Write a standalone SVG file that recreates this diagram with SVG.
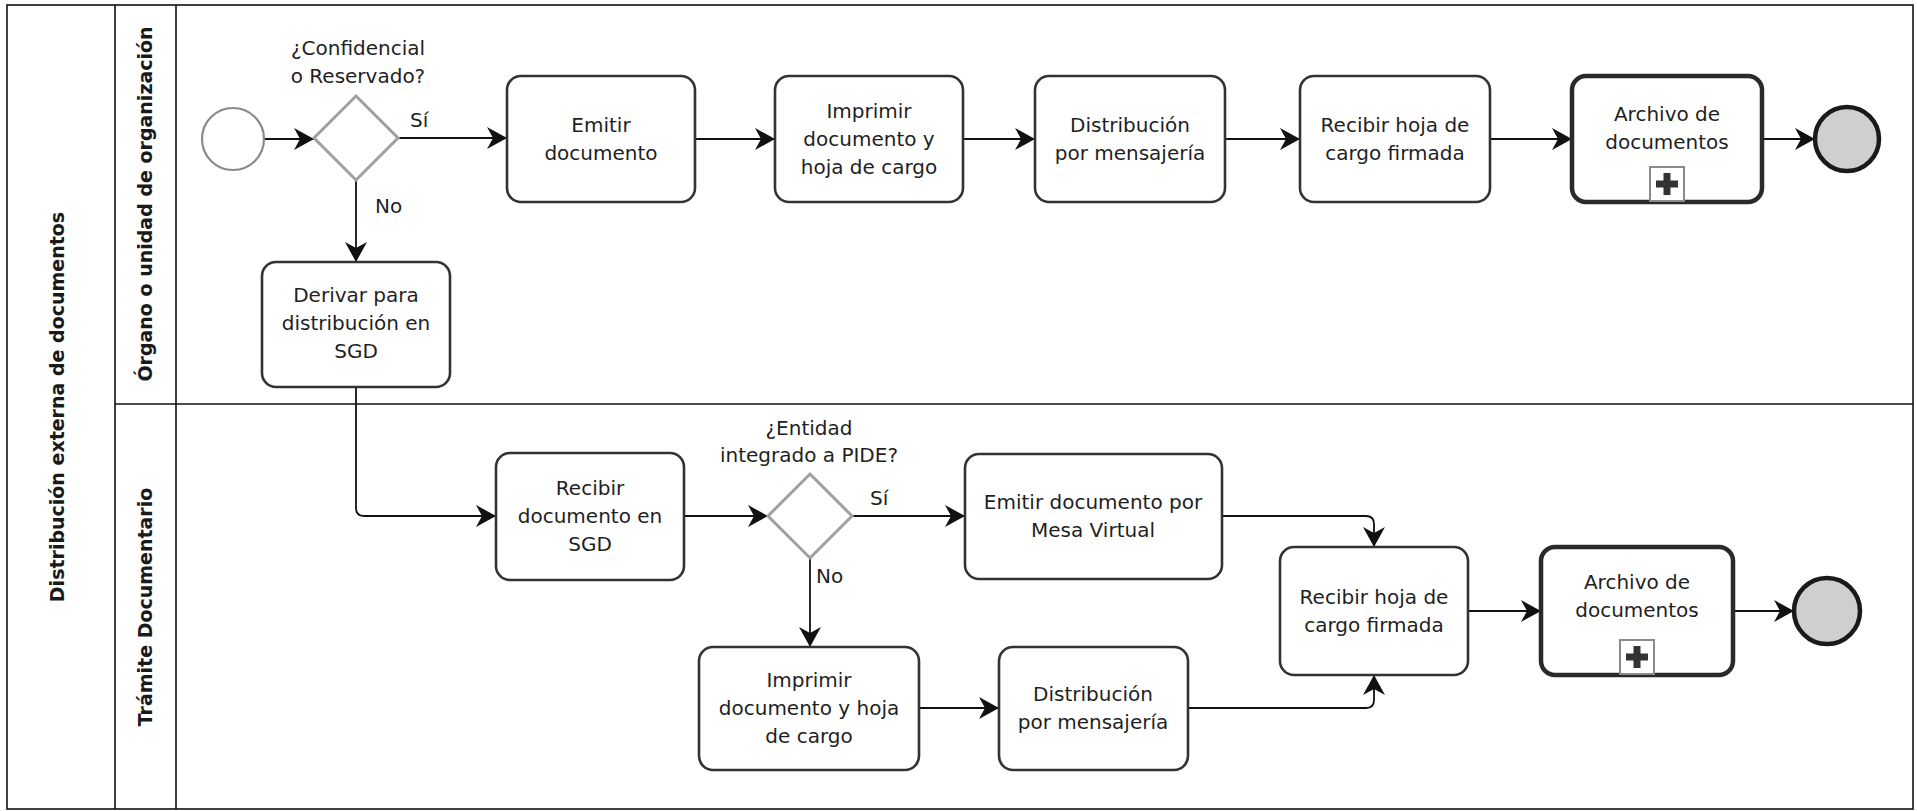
<svg xmlns="http://www.w3.org/2000/svg" width="1917" height="811" viewBox="0 0 1917 811">
<style>
.frame{fill:none;stroke:#111;stroke-width:1.6}
.task{fill:#fff;stroke:#333;stroke-width:2.6}
.sub{fill:#fff;stroke:#2a2a2a;stroke-width:4.5}
.gw{fill:#fff;stroke:#a0a0a0;stroke-width:3}
.start{fill:#fff;stroke:#8a8a8a;stroke-width:2.2}
.end{fill:#cfcfcf;stroke:#1a1a1a;stroke-width:4.5}
.flow{fill:none;stroke:#111;stroke-width:1.8}
.t{font-family:"DejaVu Sans",Verdana,sans-serif;font-size:20px;fill:#1f1f1f;text-anchor:middle}
.lbl{font-family:"DejaVu Sans",Verdana,sans-serif;font-size:20px;fill:#1f1f1f}
.h{font-family:"DejaVu Sans",Verdana,sans-serif;font-size:19px;font-weight:bold;fill:#1a1a1a;text-anchor:middle}
.mk{fill:#fff;stroke:#8a8a8a;stroke-width:2}
.plus{fill:#333}
</style>
<defs>
<marker id="arr" markerUnits="userSpaceOnUse" viewBox="-20 -11 21 22" refX="0" refY="0" markerWidth="21" markerHeight="22" orient="auto">
<path d="M0,0 L-20,-11 L-14,0 L-20,11 Z" fill="#111"/>
</marker>
</defs>
<rect width="1917" height="811" fill="#fff"/>
<g id="pool">
<rect class="frame" x="7" y="5" width="1906" height="804"/>
<line class="frame" x1="115" y1="5" x2="115" y2="809"/>
<line class="frame" x1="176" y1="5" x2="176" y2="809"/>
<line class="frame" x1="115" y1="404" x2="1913" y2="404"/>
<text class="h" transform="translate(64,407) rotate(-90)">Distribución externa de documentos</text>
<text class="h" transform="translate(152,204) rotate(-90)">Órgano o unidad de organización</text>
<text class="h" transform="translate(152,607) rotate(-90)">Trámite Documentario</text>
</g>
<g id="connectors">
<path class="flow" d="M264,139 H314" marker-end="url(#arr)"/>
<path class="flow" d="M398,138 H507" marker-end="url(#arr)"/>
<path class="flow" d="M356,180 V262" marker-end="url(#arr)"/>
<path class="flow" d="M695,139 H775" marker-end="url(#arr)"/>
<path class="flow" d="M963,139 H1035" marker-end="url(#arr)"/>
<path class="flow" d="M1225,139 H1300" marker-end="url(#arr)"/>
<path class="flow" d="M1490,139 H1572" marker-end="url(#arr)"/>
<path class="flow" d="M1762,139 H1815" marker-end="url(#arr)"/>
<path class="flow" d="M356,387 V508 Q356,516 364,516 H496" marker-end="url(#arr)"/>
<path class="flow" d="M684,516 H768" marker-end="url(#arr)"/>
<path class="flow" d="M852,516 H965" marker-end="url(#arr)"/>
<path class="flow" d="M810,558 V647" marker-end="url(#arr)"/>
<path class="flow" d="M1222,516 H1366 Q1374,516 1374,524 V547" marker-end="url(#arr)"/>
<path class="flow" d="M919,708 H999" marker-end="url(#arr)"/>
<path class="flow" d="M1188,708 H1366 Q1374,708 1374,700 V675" marker-end="url(#arr)"/>
<path class="flow" d="M1468,611 H1541" marker-end="url(#arr)"/>
<path class="flow" d="M1733,611 H1794" marker-end="url(#arr)"/>
<text class="lbl" x="410" y="127">Sí</text>
<text class="lbl" x="375" y="213">No</text>
<text class="lbl" x="870" y="505">Sí</text>
<text class="lbl" x="816" y="583">No</text>
</g>
<g id="start1"><circle class="start" cx="233" cy="139" r="31"/></g>
<g id="gw1">
<path class="gw" d="M356,96 L398,138 L356,180 L314,138 Z"/>
<text class="t" x="358" y="55">¿Confidencial</text>
<text class="t" x="358" y="83">o Reservado?</text>
</g>
<g id="emitir"><rect class="task" x="507" y="76" width="188" height="126" rx="14"/>
<text class="t" x="601" y="132">Emitir</text><text class="t" x="601" y="160">documento</text></g>
<g id="imprimir1"><rect class="task" x="775" y="76" width="188" height="126" rx="14"/>
<text class="t" x="869" y="118">Imprimir</text><text class="t" x="869" y="146">documento y</text><text class="t" x="869" y="174">hoja de cargo</text></g>
<g id="distrib1"><rect class="task" x="1035" y="76" width="190" height="126" rx="14"/>
<text class="t" x="1130" y="132">Distribución</text><text class="t" x="1130" y="160">por mensajería</text></g>
<g id="recibir1"><rect class="task" x="1300" y="76" width="190" height="126" rx="14"/>
<text class="t" x="1395" y="132">Recibir hoja de</text><text class="t" x="1395" y="160">cargo firmada</text></g>
<g id="archivo1"><rect class="sub" x="1572" y="76" width="190" height="126" rx="14"/>
<text class="t" x="1667" y="121">Archivo de</text><text class="t" x="1667" y="149">documentos</text>
<rect class="mk" x="1650" y="167" width="34" height="34"/>
<rect class="plus" x="1663.5" y="173" width="7" height="22"/><rect class="plus" x="1656" y="180.5" width="22" height="7"/></g>
<g id="end1"><circle class="end" cx="1847" cy="139" r="32"/></g>
<g id="derivar"><rect class="task" x="262" y="262" width="188" height="125" rx="14"/>
<text class="t" x="356" y="302">Derivar para</text><text class="t" x="356" y="330">distribución en</text><text class="t" x="356" y="358">SGD</text></g>
<g id="recibirSGD"><rect class="task" x="496" y="453" width="188" height="127" rx="14"/>
<text class="t" x="590" y="495">Recibir</text><text class="t" x="590" y="523">documento en</text><text class="t" x="590" y="551">SGD</text></g>
<g id="gw2">
<path class="gw" d="M810,474 L852,516 L810,558 L768,516 Z"/>
<text class="t" x="809" y="435">¿Entidad</text>
<text class="t" x="809" y="462">integrado a PIDE?</text>
</g>
<g id="mesa"><rect class="task" x="965" y="454" width="257" height="125" rx="14"/>
<text class="t" x="1093" y="509">Emitir documento por</text><text class="t" x="1093" y="537">Mesa Virtual</text></g>
<g id="imprimir2"><rect class="task" x="699" y="647" width="220" height="123" rx="14"/>
<text class="t" x="809" y="687">Imprimir</text><text class="t" x="809" y="715">documento y hoja</text><text class="t" x="809" y="743">de cargo</text></g>
<g id="distrib2"><rect class="task" x="999" y="647" width="189" height="123" rx="14"/>
<text class="t" x="1093" y="701">Distribución</text><text class="t" x="1093" y="729">por mensajería</text></g>
<g id="recibir2"><rect class="task" x="1280" y="547" width="188" height="128" rx="14"/>
<text class="t" x="1374" y="604">Recibir hoja de</text><text class="t" x="1374" y="632">cargo firmada</text></g>
<g id="archivo2"><rect class="sub" x="1541" y="547" width="192" height="128" rx="14"/>
<text class="t" x="1637" y="589">Archivo de</text><text class="t" x="1637" y="617">documentos</text>
<rect class="mk" x="1620" y="640" width="34" height="34"/>
<rect class="plus" x="1633.5" y="646" width="7" height="22"/><rect class="plus" x="1626" y="653.5" width="22" height="7"/></g>
<g id="end2"><circle class="end" cx="1827" cy="611" r="33"/></g>
</svg>
